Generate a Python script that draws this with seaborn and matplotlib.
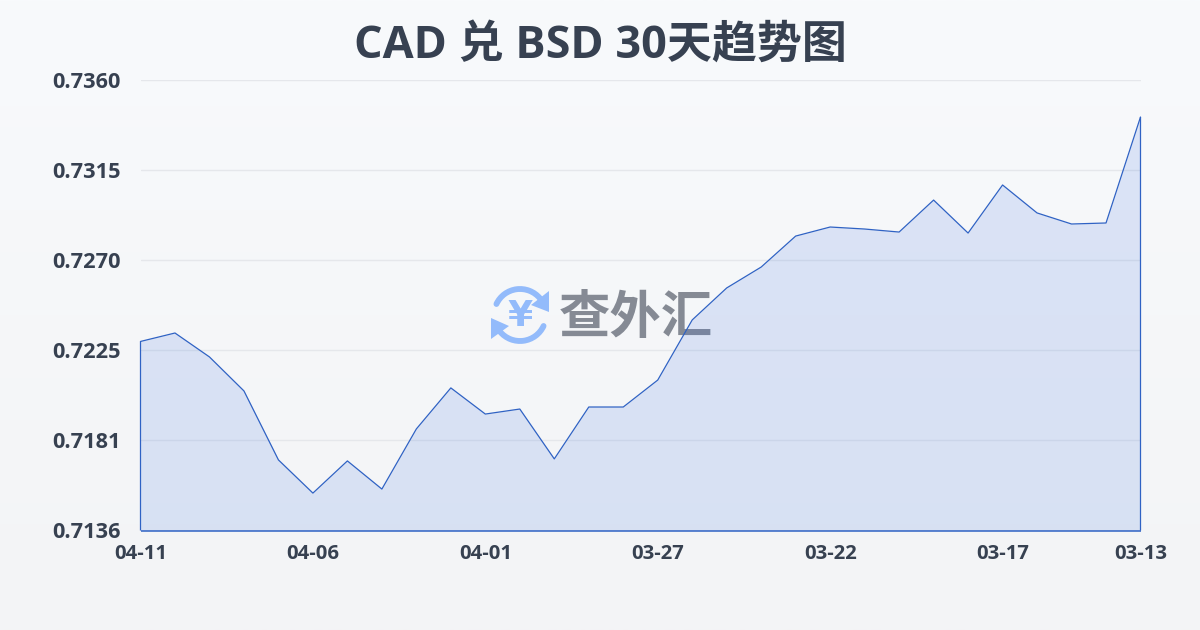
import numpy as np
import pandas as pd
import seaborn as sns
import matplotlib.pyplot as plt
from matplotlib.colors import LinearSegmentedColormap
from matplotlib.patches import Arc, Polygon

dates = ['04-11', '04-10', '04-09', '04-08', '04-07', '04-06', '04-05', '04-04', '04-03', '04-02',
         '04-01', '03-31', '03-30', '03-29', '03-28', '03-27', '03-26', '03-25', '03-24', '03-23',
         '03-22', '03-21', '03-20', '03-19', '03-18', '03-17', '03-16', '03-15', '03-14', '03-13']
rates = [0.72300, 0.72342, 0.72223, 0.72054, 0.71711, 0.71546, 0.71706, 0.71566, 0.71865, 0.72069,
         0.71939, 0.71964, 0.71716, 0.71974, 0.71974, 0.72108, 0.72407, 0.72566, 0.72670, 0.72824,
         0.72869, 0.72859, 0.72844, 0.73003, 0.72839, 0.73078, 0.72939, 0.72884, 0.72889, 0.73416]
y_ticks = [0.7136, 0.71808, 0.72256, 0.72704, 0.73152, 0.7360]
y_labels = ['0.7136', '0.7181', '0.7225', '0.7270', '0.7315', '0.7360']
x_labels = ['04-11', '04-06', '04-01', '03-27', '03-22', '03-17', '03-13']
title = 'CAD 兑 BSD 30天趋势图'
watermark = '查外汇'

sns.set_theme(style='white')
plt.rcParams['font.family'] = ['Open Sans', 'Noto Sans CJK SC', 'DejaVu Sans']

TEXT = '#374151'
LINE = '#2f62c4'
W, H = 1200, 630

fig = plt.figure(figsize=(12, 6.3), dpi=100)

# background gradient
bg = fig.add_axes([0, 0, 1, 1], zorder=0)
bg.imshow(np.linspace(0, 1, 256).reshape(-1, 1), aspect='auto', extent=[0, W, H, 0],
          cmap=LinearSegmentedColormap.from_list('bg', ['#f8fafc', '#f3f4f6']))
bg.set_xlim(0, W)
bg.set_ylim(H, 0)
bg.axis('off')

# watermark logo
logo = '#93bbfb'
for a, b in [(205, 320), (25, 140)]:
    bg.add_patch(Arc((520, 315), 52, 52, theta1=a, theta2=b, color=logo, lw=4.2, capstyle='round'))
bg.add_patch(Polygon([[549, 291], [549, 312], [531, 305]], closed=True, color=logo, lw=0))
bg.add_patch(Polygon([[491, 318], [509, 326], [491, 339]], closed=True, color=logo, lw=0))
bg.text(520, 316, '¥', color=logo, fontsize=26, fontweight='bold', ha='center', va='center',
        family=['DejaVu Sans'])
bg.text(635.5, 318, watermark, color='#858a94', fontsize=37, fontweight='bold', ha='center', va='center',
        family=['Noto Sans CJK SC'])

ax = fig.add_axes([140.5 / W, 1 - 530.5 / H, 1000 / W, 450.5 / H], zorder=1)
ax.patch.set_alpha(0)

df = pd.DataFrame({'date': dates, 'rate': rates})
df['pos'] = np.arange(len(df))

ax.fill_between(df['pos'], df['rate'], y_ticks[0], facecolor='#3b6fe0', alpha=0.15, lw=0, zorder=3)
sns.lineplot(data=df, x='pos', y='rate', color=LINE, lw=0.9, ax=ax, zorder=4, clip_on=False)
edges = ax.vlines([df['pos'].iloc[0], df['pos'].iloc[-1]], y_ticks[0], [rates[0], rates[-1]], color=LINE, lw=0.9,
                  zorder=4, clip_on=False, capstyle='butt')
edges.set_snap(False)
ax.hlines(y_ticks[0], 0, len(df) - 1, color=LINE, lw=1.1, zorder=4, clip_on=False)

ax.set_xlim(0, len(df) - 1)
ax.set_ylim(y_ticks[0], y_ticks[-1])
ax.set_yticks(y_ticks, y_labels)
ax.set_xticks([dates.index(d) for d in x_labels], x_labels)
ax.grid(axis='y', color='#e5e7eb', lw=1)
ax.set_axisbelow(True)
sns.despine(ax=ax, left=True, bottom=True, top=True, right=True)
ax.tick_params(axis='y', length=0, pad=14, labelsize=15.7, labelcolor=TEXT)
ax.tick_params(axis='x', length=8, width=1, color='#e5e7eb', pad=2, labelsize=14.6, labelcolor=TEXT)
for lab in ax.get_xticklabels() + ax.get_yticklabels():
    lab.set_fontweight('bold')
ax.set_xlabel('')
ax.set_ylabel('')

fig.text(600 / W, 1 - 46.5 / H, title, ha='center', va='center', fontsize=32.4, fontweight='bold', color=TEXT)

fig.savefig('out.png', dpi=100)
